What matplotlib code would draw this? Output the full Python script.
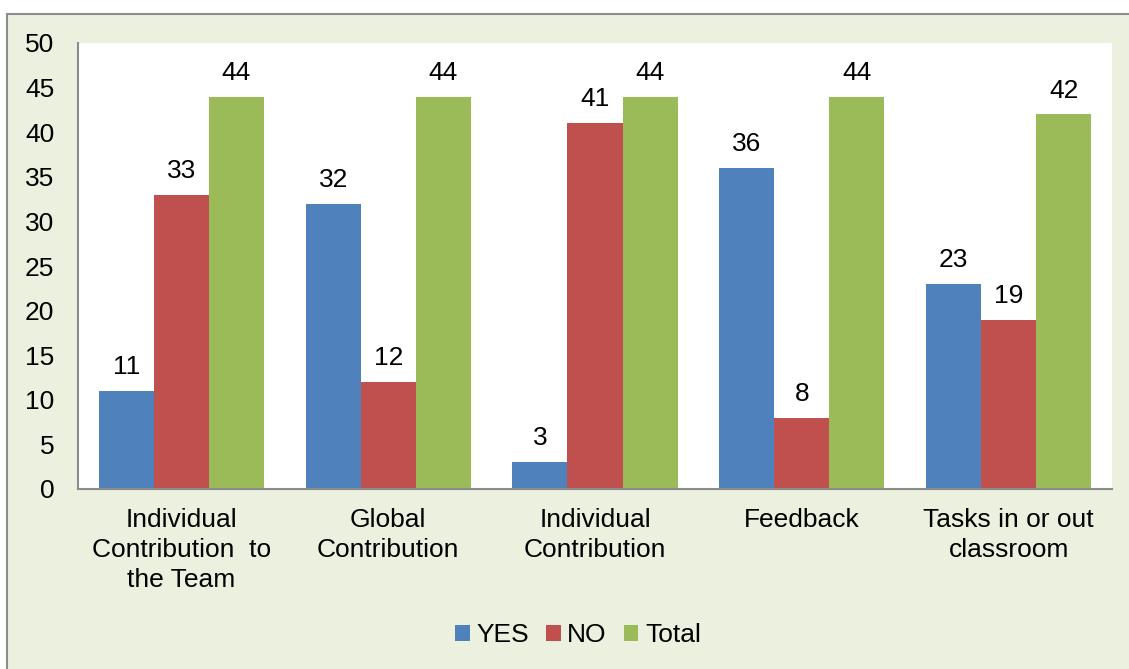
import matplotlib.pyplot as plt
import numpy as np
from matplotlib.patches import Rectangle

plt.rcParams['font.family'] = ['Liberation Sans', 'DejaVu Sans']

# survey answers per item
categories = ['Individual\nContribution  to\nthe Team', 'Global\nContribution',
              'Individual\nContribution', 'Feedback', 'Tasks in or out\nclassroom']
yes_vals = [11, 32, 3, 36, 23]
no_vals = [33, 12, 41, 8, 19]
total_vals = [44, 44, 44, 44, 42]

series = [('YES', yes_vals, '#4F81BD'),
          ('NO', no_vals, '#C0504D'),
          ('Total', total_vals, '#9BBB59')]

fig = plt.figure(figsize=(11.29, 6.69), dpi=100)
fig.patch.set_facecolor('white')

# chart area background with the grey frame (kept behind the axes)
fig.patches.append(Rectangle((7 / 1129, -0.05), 1.1, 1 - 14 / 669 + 0.05,
                             transform=fig.transFigure, facecolor='#EBF1DE',
                             edgecolor='#8C8C8C', linewidth=1.5, zorder=-5))

ax = fig.add_axes([78 / 1129, 1 - 489 / 669, (1112 - 78) / 1129, (489 - 43) / 669])
ax.set_facecolor('white')

x = np.arange(len(categories))
w = 0.266
for i, (name, vals, col) in enumerate(series):
    bars = ax.bar(x + (i - 1) * w, vals, width=w, color=col, label=name)
    for b, v in zip(bars, vals):
        ax.annotate(str(v), (b.get_x() + b.get_width() / 2, v),
                    xytext=(0, 8.5), textcoords='offset points',
                    ha='center', va='bottom', fontsize=19)

ax.set_xlim(-0.5, len(categories) - 0.5)
ax.set_ylim(0, 50)
ax.set_yticks(range(0, 51, 5))
ax.set_xticks(x)
ax.set_xticklabels(categories, linespacing=1.3)
ax.tick_params(axis='both', length=0, labelsize=19)
ax.tick_params(axis='x', pad=14)
ax.tick_params(axis='y', pad=17)

for s in ['top', 'right']:
    ax.spines[s].set_visible(False)
for s in ['left', 'bottom']:
    ax.spines[s].set_color('#8C8C8C')
    ax.spines[s].set_linewidth(1.5)

fig.legend(loc='center', bbox_to_anchor=(578 / 1129, 1 - 635 / 669), ncol=3,
           frameon=False, fontsize=19, handlelength=0.55, handleheight=0.55,
           handletextpad=0.25, columnspacing=0.65)

fig.savefig('out.png', dpi=100)
